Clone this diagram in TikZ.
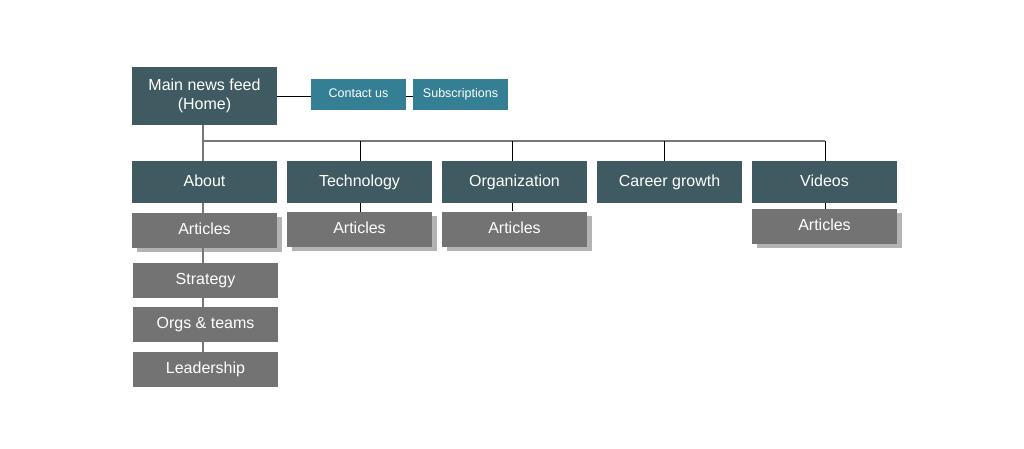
\documentclass[tikz,border=0pt]{standalone}
\usepackage{fontspec}
\setmainfont{Liberation Sans}
\usetikzlibrary{shadows}
\definecolor{darkteal}{HTML}{3F5A60}
\definecolor{lightteal}{HTML}{347F93}
\definecolor{boxgray}{HTML}{737373}
\definecolor{shgray}{HTML}{B3B3B3}
\definecolor{linegray}{HTML}{777777}
\tikzset{
  topbox/.style={rectangle, fill=darkteal, text=white, inner sep=0pt, minimum width=145pt, minimum height=42pt, font=\fontsize{16}{19}\selectfont, align=center, text height=12pt, text depth=4pt},
  mainbox/.style={rectangle, fill=darkteal, text=white, inner sep=0pt, minimum width=145pt, minimum height=58pt, font=\fontsize{16}{19}\selectfont, align=center},
  linkbox/.style={rectangle, fill=lightteal, text=white, inner sep=0pt, minimum width=95pt, minimum height=31pt, font=\fontsize{12.5}{15}\selectfont, text height=9.5pt, text depth=4.5pt},
  artbox/.style={rectangle, fill=boxgray, text=white, inner sep=0pt, minimum width=145pt, minimum height=35pt, font=\fontsize{16}{19}\selectfont, text height=12pt, text depth=4pt,
     drop shadow={shadow xshift=5pt, shadow yshift=-4pt, fill=shgray, opacity=1}},
  subbox/.style={rectangle, fill=boxgray, text=white, inner sep=0pt, minimum width=145pt, minimum height=35pt, font=\fontsize{16}{19}\selectfont, text height=12pt, text depth=4pt},
  grayline/.style={draw=linegray, line width=1.3pt},
  blackline/.style={draw=black, line width=0.9pt},
}
\begin{document}
\begin{tikzpicture}[x=1pt,y=-1pt]
\useasboundingbox (0,0) rectangle (1024,448);
% nodes
\node[mainbox] (main) at (204.5,96) {Main news feed\\(Home)};
\node[linkbox] (contact) at (358.5,94.5) {Contact us};
\node[linkbox] (subs) at (460.5,94.5) {Subscriptions};
\node[topbox] (about) at (204.5,182) {About};
\node[topbox] (tech) at (359.5,182) {Technology};
\node[topbox] (org) at (514.5,182) {Organization};
\node[topbox] (career) at (669.5,182) {Career growth};
\node[topbox] (videos) at (824.5,182) {Videos};
\node[artbox] (artA) at (204.5,230.5) {Articles};
\node[artbox] (artT) at (359.5,229.5) {Articles};
\node[artbox] (artO) at (514.5,229) {Articles};
\node[artbox] (artV) at (824.5,226.5) {Articles};
\node[subbox] (strat) at (205.5,280.5) {Strategy};
\node[subbox] (orgs) at (205.5,324.5) {Orgs \& teams};
\node[subbox] (lead) at (205.5,369.5) {Leadership};
\coordinate (busL) at (203,141);
\coordinate (busR) at (825,141);
% connectors
\draw[blackline] (main.east) -- (main.east -| contact.west);
\draw[blackline] (main.east -| contact.east) -- (main.east -| subs.west);
\draw[grayline] (main.south -| busL) -- (about.north -| busL);
\draw[grayline] (busL) -- (busR);
\draw[blackline] (busL -| 360,0) -- (tech.north -| 360,0);
\draw[blackline] (busL -| 512,0) -- (org.north -| 512,0);
\draw[blackline] (busL -| 664,0) -- (career.north -| 664,0);
\draw[blackline] (busR) -- (videos.north -| busR);
\draw[grayline] (about.south -| busL) -- (artA.north -| busL);
\draw[grayline] (artA.south -| busL) -- (strat.north -| busL);
\draw[grayline] (strat.south -| busL) -- (orgs.north -| busL);
\draw[grayline] (orgs.south -| busL) -- (lead.north -| busL);
\draw[blackline] (tech.south -| 360,0) -- (artT.north -| 360,0);
\draw[blackline] (org.south -| 512,0) -- (artO.north -| 512,0);
\draw[blackline] (videos.south -| busR) -- (artV.north -| busR);
\end{tikzpicture}
\end{document}
